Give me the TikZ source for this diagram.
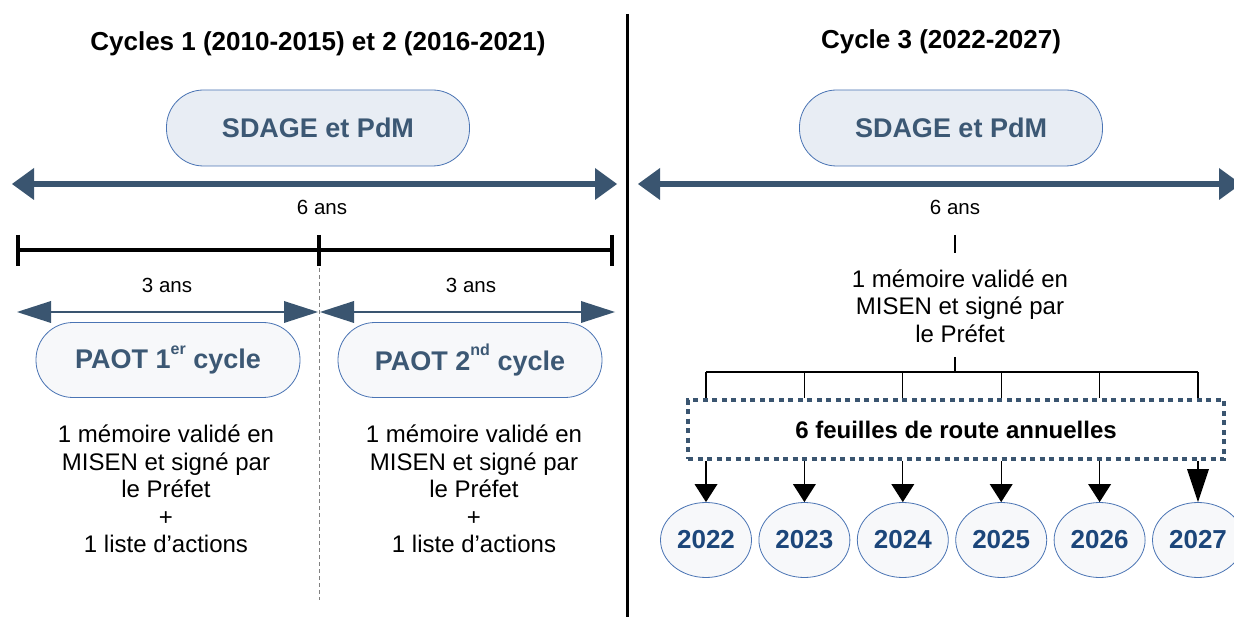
\documentclass[tikz,border=0pt]{standalone}
\usepackage{fontspec}
\setmainfont{Liberation Sans}
\usetikzlibrary{arrows.meta,shapes.geometric}
\definecolor{slate}{HTML}{3A5570}
\definecolor{boxblue}{HTML}{4A74B4}
\definecolor{sdfill}{HTML}{E8EDF4}
\definecolor{pfill}{HTML}{F7F8FA}
\definecolor{yeartxt}{HTML}{1C467A}
\definecolor{labtxt}{HTML}{3C5874}
\newcommand{\myfs}[2]{\fontsize{#1}{#2}\selectfont}
\begin{document}
\begin{tikzpicture}[x=1pt,y=-1pt,
  title/.style={font=\myfs{26}{30}\bfseries, inner sep=0},
  sdage/.style={draw=boxblue, fill=sdfill, line width=0.8pt, rounded corners=37pt,
    minimum width=303pt, minimum height=76pt, inner sep=0, text=labtxt, font=\myfs{27}{30}\bfseries},
  paot/.style={draw=boxblue, fill=pfill, line width=0.8pt, rounded corners=37pt,
    minimum width=264pt, minimum height=75pt, inner sep=0, text=labtxt, font=\myfs{27}{30}\bfseries},
  small/.style={font=\myfs{20.5}{24}, inner sep=0},
  body/.style={font=\myfs{24}{27.5}, align=center, inner sep=0},
  bigarr/.style={draw=slate, line width=6pt,
    {Triangle[length=22pt,width=32pt,line width=0pt]}-{Triangle[length=22pt,width=32pt,line width=0pt]}},
  thinarr/.style={draw=slate, line width=1.3pt,
    {Triangle[length=34pt,width=22pt,line width=0pt]}-{Triangle[length=34pt,width=22pt,line width=0pt]}},
  bar/.style={draw=black, line width=4pt},
  branch/.style={draw=black, line width=1.2pt},
  downarr/.style={draw=black, line width=1.2pt, -{Triangle[length=18pt,width=23pt,line width=0pt]}},
  bigdown/.style={draw=black, line width=1.2pt, -{Triangle[length=33pt,width=22pt,line width=0pt]}},
  roadbox/.style={draw=slate, line width=4pt, dash pattern=on 5pt off 4.5pt,
    minimum width=536pt, minimum height=59pt, inner sep=0, font=\myfs{24}{28}\bfseries},
  year/.style={ellipse, draw=boxblue, fill=pfill, line width=0.8pt, minimum width=91pt,
    minimum height=75pt, inner sep=0, text=yeartxt, font=\myfs{26}{30}\bfseries}
]
\useasboundingbox (0,0) rectangle (1234,617);
\fill[white] (0,0) rectangle (1234,617);

% titles and divider
\node[title] (t1) at (318,44) {Cycles 1 (2010-2015) et 2 (2016-2021)};
\node[title] (t2) at (941,42) {Cycle 3 (2022-2027)};
\coordinate (dv1) at (627,14);
\coordinate (dv2) at (627,617);
\draw[line width=3pt] (dv1) -- (dv2);

% SDAGE boxes
\node[sdage] (s1) at (318,128) {SDAGE et PdM};
\node[sdage] (s2) at (951,128) {SDAGE et PdM};

% 6-year arrows
\coordinate (a1l) at (12,184);
\coordinate (a1r) at (617,184);
\coordinate (a2l) at (638,184);
\coordinate (a2r) at (1241,184);
\draw[bigarr] (a1l) -- (a1r);
\draw[bigarr] (a2l) -- (a2r);
\node[small] (six1) at (322,207) {6 ans};
\node[small] (six2) at (955,207) {6 ans};

% left: 3+3 years bar
\coordinate (b0) at (18,250);
\coordinate (bm) at (319,250);
\coordinate (b1) at (612,250);
\draw[bar] (b0) -- (b1);
\draw[bar] (18,235) -- (18,266);
\draw[bar] (319,235) -- (319,266);
\draw[bar] (612,235) -- (612,266);
\node[small] (tr1) at (167,285) {3 ans};
\node[small] (tr2) at (471,285) {3 ans};
\coordinate (c1l) at (17,312);
\coordinate (c1r) at (318,312);
\coordinate (c2l) at (320,312);
\coordinate (c2r) at (615,312);
\draw[thinarr] (c1l) -- (c1r);
\draw[thinarr] (c2l) -- (c2r);
\draw[gray, line width=0.8pt, dash pattern=on 4pt off 3pt] (319,268) -- (319,600);

% PAOT boxes
\node[paot] (p1) at (168,360) {PAOT 1\raisebox{0.55em}{\myfs{16}{16}er} cycle};
\node[paot] (p2) at (470,360) {PAOT 2\raisebox{0.55em}{\myfs{16}{16}nd} cycle};
\node[body] (m1) at (166,489) {1 mémoire validé en\\MISEN et signé par\\le Préfet\\+\\1 liste d’actions};
\node[body] (m2) at (474,489) {1 mémoire validé en\\MISEN et signé par\\le Préfet\\+\\1 liste d’actions};

% right: cycle 3
\coordinate (k1) at (955,235);
\coordinate (k2) at (955,253);
\draw[branch] (k1) -- (k2);
\node[body] (m3) at (960,306) {1 mémoire validé en\\MISEN et signé par\\le Préfet};
\coordinate (st1) at (955,357);
\coordinate (st2) at (955,372);
\draw[branch] (st1) -- (st2);
\node[roadbox] (fr) at (956,429.5) {6 feuilles de route annuelles};

\foreach \i/\x/\yr in {1/706/2022, 2/804.4/2023, 3/902.8/2024, 4/1001.2/2025, 5/1099.6/2026, 6/1198/2027}{
  \coordinate (h\i) at (\x,372);
  \node[year] (y\i) at (\x,540) {\yr};
}
\draw[branch] (h1) -- (h6);
\foreach \i in {1,...,6}{
  \draw[branch] (h\i) -- (h\i |- fr.north);
}
\foreach \i in {1,...,5}{
  \draw[downarr] (fr.south -| y\i.north) -- (y\i.north);
}
\draw[bigdown] (fr.south -| y6.north) -- (y6.north);
\end{tikzpicture}
\end{document}
